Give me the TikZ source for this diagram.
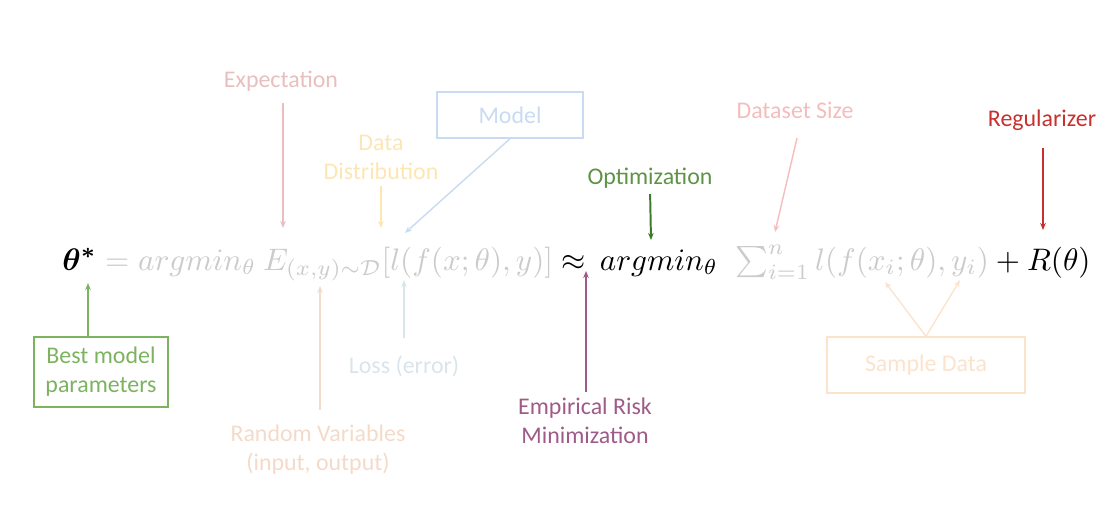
\documentclass[tikz,border=0pt]{standalone}
\usepackage{amsmath}
\usepackage{amssymb}
\usepackage{bm}
\usepackage{xcolor}
\usepackage{graphicx}
\usepackage{fontspec}
\setmainfont{Carlito}
\usepackage{tikz}
\usetikzlibrary{positioning, arrows.meta}

\definecolor{fgray}{HTML}{CBCBCB}
\definecolor{cexpect}{HTML}{E8BEBE}
\definecolor{cmodel}{HTML}{C9DBF2}
\definecolor{cdata}{HTML}{FCE6B4}
\definecolor{coptim}{HTML}{5E9346}
\definecolor{coptimarr}{HTML}{3F7A2A}
\definecolor{csize}{HTML}{F5BCBC}
\definecolor{cregul}{HTML}{C8302E}
\definecolor{cbest}{HTML}{7CB35F}
\definecolor{crand}{HTML}{F4DAC8}
\definecolor{closs}{HTML}{D9E5EA}
\definecolor{cerm}{HTML}{9E5A88}
\definecolor{csample}{HTML}{FBE3CC}

\begin{document}
\begin{tikzpicture}[
    x=0.025cm, y=-0.025cm,
    note/.style={inner sep=0pt, align=center, font=\fontsize{17}{20.5}\selectfont},
    notebox/.style={draw, line width=1pt, inner sep=0pt, align=center, font=\fontsize{17}{20.5}\selectfont},
    pointer/.style={-{Stealth[length=5pt, width=4pt]}, line width=1pt}
]
\useasboundingbox (0,0) rectangle (1116,514);

% the formula
\node[anchor=base west, inner sep=0pt] (formula) at (62,270) {\resizebox{25.7cm}{!}{$%
  \bm{\theta^{*}} \;\textcolor{fgray}{=}\; \textcolor{fgray}{argmin_{\theta}\ E_{(x,y)\sim\mathcal{D}}[l(f(x;\theta),y)]}
  \approx\, argmin_{\theta}\;\; \textcolor{fgray}{\textstyle\sum_{i=1}^{n} l(f(x_i;\theta),y_i)} + R(\theta)$}};

% arrow tips on the formula
\coordinate (tipexpect) at (283,228);
\coordinate (tipmodel) at (405,233);
\coordinate (tipdata) at (381,228);
\coordinate (tipoptim) at (651,240);
\coordinate (tipsize) at (775,232);
\coordinate (tipregul) at (1043,230);
\coordinate (tipbest) at (88,283);
\coordinate (tiprand) at (320,286);
\coordinate (tiploss) at (404,280);
\coordinate (tiperm) at (586,271);
\coordinate (tipsamplea) at (885,282);
\coordinate (tipsampleb) at (960,280);

% labels above
\node[note, text=cexpect] (expect) at (281,81) {Expectation};
\node[notebox, draw=cmodel, text=cmodel, minimum width=3.65cm, minimum height=1.15cm] (model) at (510,115) {Model};
\node[note, text=cdata] (datadist) at (381,157) {Data\\Distribution};
\node[note, text=coptim] (optim) at (650,178) {Optimization};
\node[note, text=csize] (dsize) at (795,110) {Dataset Size};
\node[note, text=cregul] (regul) at (1042,120) {Regularizer};

% labels below
\node[notebox, draw=cbest, text=cbest, minimum width=3.35cm, minimum height=1.75cm] (bestparam) at (101,372) {Best model\\parameters};
\node[note, text=crand] (randvar) at (318,450) {Random Variables\\(input, output)};
\node[note, text=closs] (loss) at (404,366) {Loss (error)};
\node[note, text=cerm] (erm) at (585,421) {Empirical Risk\\Minimization};
\node[notebox, draw=csample, text=csample, minimum width=4.95cm, minimum height=1.4cm] (sample) at (926,365) {Sample Data};

\draw[pointer, cexpect] (283,103) -- (tipexpect);
\draw[pointer, cmodel] (model.south) -- (tipmodel);
\draw[pointer, cdata, shorten <=5pt] (datadist.south) -- (tipdata);
\draw[pointer, coptimarr, line width=1.4pt, shorten <=4pt] (optim.south) -- (tipoptim);
\draw[pointer, csize] (797,138) -- (tipsize);
\draw[pointer, cregul, line width=1.4pt] (1043,148) -- (tipregul);
\draw[pointer, cbest, line width=1.3pt] (bestparam.north -| tipbest) -- (tipbest);
\draw[pointer, crand] (320,410) -- (tiprand);
\draw[pointer, closs, shorten <=12pt] (loss.north) -- (tiploss);
\draw[pointer, cerm, line width=1.8pt] (586,392) -- (tiperm);
\draw[pointer, csample] (sample.north) -- (tipsamplea);
\draw[pointer, csample] (sample.north) -- (tipsampleb);

\end{tikzpicture}
\end{document}
